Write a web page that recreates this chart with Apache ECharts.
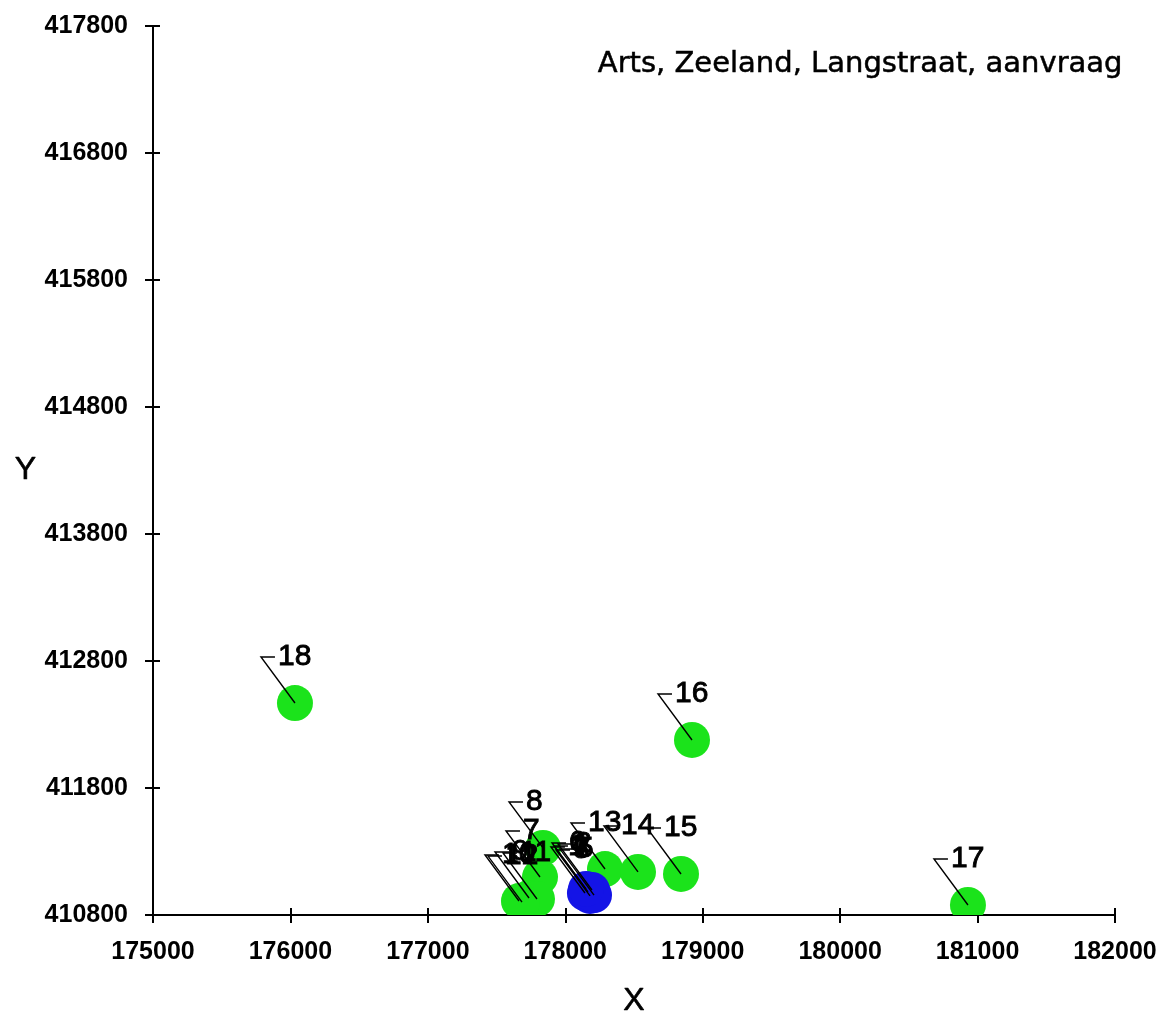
<!DOCTYPE html>
<html>
<head>
<meta charset="utf-8">
<title>Arts, Zeeland, Langstraat, aanvraag</title>
<script src="https://cdn.jsdelivr.net/npm/echarts@6/dist/echarts.min.js"></script>
<style>
  html, body { margin: 0; padding: 0; background: #fff; }
  #chart { width: 1160px; height: 1014px; }
</style>
</head>
<body>
<div id="chart"></div>
<script>
// point numbers, X and Y (RD coordinates)
var greenLabels = ["7", "8", "9", "10", "11", "12", "13", "14", "15", "16", "17", "18"];
var greenX = [177816, 177838, 177736, 177663, 177794, 177685, 178289, 178529, 178842, 178922, 180930, 176033];
var greenY = [411099, 411328, 410934, 410910, 410926, 410902, 411162, 411139, 411123, 412178, 410879, 412469];

var blueLabels = ["1", "2", "3", "4", "5", "6"];
var blueX = [178143, 178194, 178180, 178165, 178209, 178151];
var blueY = [410973, 410997, 410950, 410981, 410957, 411005];

var xTicks = [175000, 176000, 177000, 178000, 179000, 180000, 181000, 182000];
var yTicks = [410800, 411800, 412800, 413800, 414800, 415800, 416800, 417800];

var chart = echarts.init(document.getElementById("chart"));

function zip(xs, ys, labels) {
  return xs.map(function (x, i) { return [x, ys[i], labels[i]]; });
}
var greenData = zip(greenX, greenY, greenLabels);
var blueData = zip(blueX, blueY, blueLabels);

function circle(color) {
  return function (params, api) {
    var p = api.coord([api.value(0), api.value(1)]);
    return {
      type: "circle",
      shape: { cx: p[0], cy: p[1], r: 18 },
      style: { fill: color }
    };
  };
}

// callout: line up-left from the point, short horizontal, then the number
function mark(params, api) {
  var p = api.coord([api.value(0), api.value(1)]);
  var cx = p[0], cy = p[1];
  return {
    type: "group",
    children: [
      {
        type: "polyline",
        shape: { points: [[cx, cy], [cx - 34, cy - 46], [cx - 20, cy - 46]] },
        style: { stroke: "#000", lineWidth: 1.4, fill: null }
      },
      {
        type: "text",
        x: cx - 17,
        y: cy - 46,
        style: {
          text: String(api.value(2)),
          fill: "#000",
          stroke: "#000",
          lineWidth: 0.9,
          font: "30px 'Liberation Sans', Arial, sans-serif",
          align: "left",
          verticalAlign: "middle"
        }
      }
    ]
  };
}

var axisFont = { fontFamily: "'Liberation Sans', Arial, sans-serif", fontWeight: "bold", fontSize: 25, color: "#000" };
var plain = function (v) { return String(v); };
var nameFont = { fontFamily: "'Liberation Sans', Arial, sans-serif", fontSize: 32, color: "#000", textBorderColor: "#000", textBorderWidth: 0.6 };

chart.setOption({
  animation: false,
  backgroundColor: "#fff",
  title: {
    text: "Arts, Zeeland, Langstraat, aanvraag",
    right: 32,
    top: 45,
    textStyle: {
      fontFamily: "'DejaVu Sans', sans-serif", fontWeight: "normal", fontSize: 29, color: "#000",
      textBorderColor: "#000", textBorderWidth: 0.5
    }
  },
  grid: { left: 153, right: 45, top: 26, bottom: 99, containLabel: false, outerBoundsMode: "none" },
  xAxis: [
    {
      type: "value",
      min: 175000,
      max: 182000,
      name: "X",
      nameLocation: "middle",
      nameGap: 70,
      nameTextStyle: nameFont,
      axisLine: { show: true, onZero: false, lineStyle: { color: "#000", width: 2 } },
      axisTick: { show: true, length: 8, lineStyle: { color: "#000", width: 2 }, customValues: xTicks },
      axisLabel: Object.assign({ margin: 25, customValues: xTicks, formatter: plain }, axisFont),
      splitLine: { show: false }
    },
    {
      type: "value",
      position: "bottom",
      min: 175000,
      max: 182000,
      axisLine: { show: false },
      axisTick: { show: true, inside: true, length: 7, lineStyle: { color: "#000", width: 2 }, customValues: xTicks },
      axisLabel: { show: false },
      splitLine: { show: false }
    }
  ],
  yAxis: [
    {
      type: "value",
      min: 410800,
      max: 417800,
      name: "Y",
      nameLocation: "middle",
      nameRotate: 0,
      nameGap: 117,
      nameTextStyle: nameFont,
      axisLine: { show: true, onZero: false, lineStyle: { color: "#000", width: 2 } },
      axisTick: { show: true, length: 8, lineStyle: { color: "#000", width: 2 }, customValues: yTicks },
      axisLabel: Object.assign({ margin: 25, customValues: yTicks, formatter: plain }, axisFont),
      splitLine: { show: false }
    },
    {
      type: "value",
      position: "left",
      min: 410800,
      max: 417800,
      axisLine: { show: false },
      axisTick: { show: true, inside: true, length: 7, lineStyle: { color: "#000", width: 2 }, customValues: yTicks },
      axisLabel: { show: false },
      splitLine: { show: false }
    }
  ],
  series: [
    {
      name: "green",
      type: "custom",
      clip: true,
      renderItem: circle("#1be31b"),
      encode: { x: 0, y: 1 },
      data: greenData
    },
    {
      name: "blue",
      type: "custom",
      clip: true,
      renderItem: circle("#1414e6"),
      encode: { x: 0, y: 1 },
      data: blueData
    },
    {
      name: "marks",
      type: "custom",
      clip: true,
      renderItem: mark,
      encode: { x: 0, y: 1 },
      data: greenData.concat(blueData)
    }
  ]
});
</script>
</body>
</html>
